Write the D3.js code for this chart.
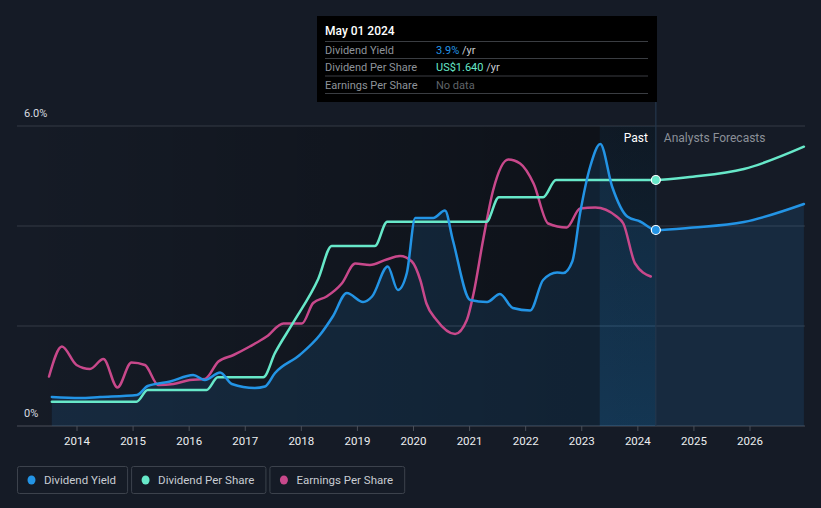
<!DOCTYPE html>
<html>
<head>
<meta charset="utf-8">
<script src="https://cdn.jsdelivr.net/npm/d3@7"></script>
<style>
  html, body { margin: 0; padding: 0; background: #151b26; }
  svg { display: block; font-family: Roboto, "Noto Sans", sans-serif; }
</style>
</head>
<body>
<svg id="chart" width="821" height="508"></svg>
<script>
// decimal year, value
const yieldPast = [
  [2013.56, 0.58], [2014.06, 0.56], [2014.42, 0.58], [2015.08, 0.62], [2015.27, 0.80],
  [2015.67, 0.89], [2016.08, 1.02], [2016.29, 0.92], [2016.56, 1.07], [2016.77, 0.84],
  [2017.18, 0.76], [2017.36, 0.79], [2017.54, 1.06], [2017.98, 1.42], [2018.34, 1.82],
  [2018.57, 2.19], [2018.82, 2.66], [2019.11, 2.48], [2019.27, 2.59], [2019.55, 3.19],
  [2019.73, 2.72], [2019.89, 3.06], [2020.04, 4.16], [2020.36, 4.16], [2020.57, 4.31],
  [2020.71, 3.72], [2021.02, 2.52], [2021.32, 2.48], [2021.55, 2.64], [2021.78, 2.36],
  [2022.09, 2.31], [2022.32, 2.92], [2022.57, 3.07], [2022.68, 3.06], [2022.84, 3.29],
  [2022.98, 4.26], [2023.16, 5.19], [2023.34, 5.64], [2023.55, 4.79], [2023.82, 4.19],
  [2024.05, 4.09], [2024.33, 3.92]
];
const yieldForecast = [[2024.33, 3.92], [2025.0, 3.97], [2025.9, 4.08], [2026.97, 4.44]];

const dpsPast = [
  [2013.56, 0.162], [2015.07, 0.162], [2015.27, 0.24], [2016.32, 0.24], [2016.52, 0.325],
  [2017.33, 0.325], [2017.54, 0.487], [2017.86, 0.687], [2018.31, 0.98], [2018.55, 1.20],
  [2019.32, 1.20], [2019.54, 1.362], [2021.31, 1.362], [2021.53, 1.525], [2022.32, 1.525],
  [2022.55, 1.64], [2024.33, 1.64]
];
const dpsForecast = [[2024.33, 1.64], [2024.99, 1.662], [2025.9, 1.713], [2026.97, 1.862]];

const epsPast = [
  [2013.51, 0.99], [2013.74, 1.59], [2014.0, 1.22], [2014.24, 1.14], [2014.48, 1.34],
  [2014.73, 0.77], [2014.98, 1.27], [2015.22, 1.22], [2015.46, 0.82], [2015.73, 0.84],
  [2016.02, 0.92], [2016.29, 0.94], [2016.53, 1.29], [2016.80, 1.42], [2017.09, 1.59],
  [2017.39, 1.79], [2017.69, 2.05], [2018.02, 2.05], [2018.22, 2.46], [2018.46, 2.59],
  [2018.73, 2.85], [2018.97, 3.25], [2019.23, 3.22], [2019.53, 3.33], [2019.77, 3.40],
  [2019.98, 3.29], [2020.13, 2.92], [2020.24, 2.45], [2020.42, 2.12], [2020.75, 1.84],
  [2020.96, 2.12], [2021.08, 2.65], [2021.25, 3.72], [2021.43, 4.72], [2021.70, 5.33],
  [2021.91, 5.25], [2022.15, 4.85], [2022.41, 4.05], [2022.74, 3.97], [2022.98, 4.35],
  [2023.25, 4.37], [2023.63, 4.19], [2023.75, 4.05], [2023.96, 3.25], [2024.24, 2.99]
];

const years = [2014, 2015, 2016, 2017, 2018, 2019, 2020, 2021, 2022, 2023, 2024, 2025, 2026];
const yTicks = [0, 2, 4, 6];
const yTickLabels = { 0: "0%", 6: "6.0%" };
const nowYear = 2024.33;
const highlightStart = 2023.33;

const seriesNames = ["Dividend Yield", "Dividend Per Share", "Earnings Per Share"];
const seriesColors = ["#2394e5", "#67e8c9", "#c8488b"];
const tooltipDate = "May 01 2024";
const tooltipValues = [["3.9%", " /yr"], ["US$1.640", " /yr"], ["No data", ""]];

const svg = d3.select("#chart");
const margin = {left: 17, right: 805, top: 126, bottom: 426};

const x = d3.scaleLinear().domain([2014, 2026]).range([76.5, 749.5]);
const y = d3.scaleLinear().domain([0, 6]).range([margin.bottom, margin.top]);      // yield %
const yDps = d3.scaleLinear().domain([0, 2]).range([margin.bottom, margin.top]);   // US$
const yEps = d3.scaleLinear().domain([0, 6]).range([margin.bottom, margin.top]);   // US$

const defs = svg.append("defs");
const pastGrad = defs.append("linearGradient").attr("id", "pastGrad");
pastGrad.append("stop").attr("offset", "0%").attr("stop-color", "#000").attr("stop-opacity", 0);
pastGrad.append("stop").attr("offset", "100%").attr("stop-color", "#000").attr("stop-opacity", 0.38);

const hlGrad = defs.append("linearGradient").attr("id", "hlGrad")
    .attr("x1", 0).attr("x2", 0).attr("y1", 0).attr("y2", 1);
hlGrad.append("stop").attr("offset", "0%").attr("stop-color", "#2394e5").attr("stop-opacity", 0.06);
hlGrad.append("stop").attr("offset", "100%").attr("stop-color", "#2394e5").attr("stop-opacity", 0.18);

// past background
svg.append("rect")
    .attr("x", margin.left).attr("y", margin.top)
    .attr("width", x(nowYear) - margin.left).attr("height", margin.bottom - margin.top)
    .attr("fill", "url(#pastGrad)");

// gridlines
svg.append("g")
    .selectAll("line")
    .data(yTicks)
    .enter()
    .append("line")
    .attr("x1", margin.left).attr("x2", margin.right)
    .attr("y1", d => y(d)).attr("y2", d => y(d))
    .attr("stroke", d => d === 0 ? "#4a4f58" : "#353a44")
    .attr("stroke-width", 1);

// area under yield
const area = d3.area()
    .x(d => x(d[0]))
    .y0(margin.bottom)
    .y1(d => y(d[1]))
    .curve(d3.curveMonotoneX);

svg.append("path")
    .datum(yieldPast.concat(yieldForecast.slice(1)))
    .attr("d", area)
    .attr("fill", "#2394e5")
    .attr("fill-opacity", 0.13);

// last-year highlight
svg.append("rect")
    .attr("x", x(highlightStart)).attr("y", margin.top)
    .attr("width", x(nowYear) - x(highlightStart)).attr("height", margin.bottom - margin.top)
    .attr("fill", "url(#hlGrad)");

// tooltip line
svg.append("line")
    .attr("x1", x(nowYear)).attr("x2", x(nowYear))
    .attr("y1", 100).attr("y2", margin.bottom)
    .attr("stroke", "#24364b").attr("stroke-width", 1.2);

const line = (sc) => d3.line()
    .x(d => x(d[0]))
    .y(d => sc(d[1]))
    .curve(d3.curveMonotoneX);

const lines = [
  [epsPast, yEps, 2],
  [dpsPast.concat(dpsForecast.slice(1)), yDps, 1],
  [yieldPast.concat(yieldForecast.slice(1)), y, 0]
];
lines.forEach(([data, sc, i]) => {
  svg.append("path")
      .datum(data)
      .attr("d", line(sc))
      .attr("fill", "none")
      .attr("stroke", seriesColors[i])
      .attr("stroke-width", 2.5)
      .attr("stroke-linecap", "round");
});

// markers at current date
svg.append("circle")
    .attr("cx", x(nowYear)).attr("cy", yDps(dpsForecast[0][1])).attr("r", 4.5)
    .attr("fill", seriesColors[1]).attr("stroke", "#fff").attr("stroke-width", 1.2);
svg.append("circle")
    .attr("cx", x(nowYear)).attr("cy", y(yieldForecast[0][1])).attr("r", 4.5)
    .attr("fill", seriesColors[0]).attr("stroke", "#fff").attr("stroke-width", 1.2);

// Past / Analysts Forecasts
svg.append("text")
    .attr("x", x(nowYear) - 8).attr("y", 142)
    .attr("text-anchor", "end")
    .attr("fill", "#ffffff").attr("font-size", 12)
    .text("Past");
svg.append("text")
    .attr("x", x(nowYear) + 8).attr("y", 142)
    .attr("fill", "#8b9098").attr("font-size", 12)
    .text("Analysts Forecasts");

// y labels
svg.append("g")
    .selectAll("text")
    .data(yTicks.filter(d => yTickLabels[d]))
    .enter()
    .append("text")
    .attr("x", 24)
    .attr("y", d => y(d) - 9)
    .attr("fill", "#d9dce0")
    .attr("font-size", 11)
    .text(d => yTickLabels[d]);

// x axis
const xAxis = svg.append("g")
    .attr("transform", `translate(0, ${margin.bottom})`)
    .call(d3.axisBottom(x).tickValues(years).tickFormat(d3.format("d")).tickSize(5).tickPadding(6));
xAxis.select(".domain").remove();
xAxis.selectAll("line").attr("stroke", "#4a4f58");
xAxis.selectAll("text")
    .attr("fill", "#eceef0")
    .style("font-size", "11.5px")
    .style("font-family", "Roboto, sans-serif");

// tooltip box
const tip = svg.append("g");
tip.append("rect")
    .attr("x", 317).attr("y", 16).attr("width", 340).attr("height", 86)
    .attr("fill", "#000");
tip.append("text")
    .attr("x", 325).attr("y", 35)
    .attr("fill", "#fff").attr("font-size", 12).attr("font-weight", 500)
    .text(tooltipDate);
[41.5, 58.5, 76, 93.5].forEach(yy => {
  tip.append("line")
      .attr("x1", 325).attr("x2", 648)
      .attr("y1", yy).attr("y2", yy)
      .attr("stroke", "#3a3d42").attr("stroke-width", 1);
});
seriesNames.forEach((name, i) => {
  const by = 54 + i * 17.3;
  tip.append("text")
      .attr("x", 325).attr("y", by)
      .attr("fill", "#8e939a").attr("font-size", 11)
      .text(name);
  const t = tip.append("text")
      .attr("x", 436).attr("y", by)
      .attr("font-size", 11);
  t.append("tspan")
      .attr("fill", i === 2 ? "#5f6368" : seriesColors[i])
      .text(tooltipValues[i][0]);
  t.append("tspan")
      .attr("fill", "#c9ccd0")
      .text(tooltipValues[i][1]);
});

// legend
const legend = svg.append("g");
let lx = 17;
seriesNames.forEach((name, i) => {
  const g = legend.append("g");
  const txt = g.append("text")
      .attr("x", lx + 27).attr("y", 484)
      .attr("fill", "#c8ccd2").attr("font-size", 11.5)
      .text(name);
  const w = txt.node().getComputedTextLength() + 27 + 11;
  g.insert("rect", "text")
      .attr("x", lx + 0.5).attr("y", 466.5)
      .attr("width", w).attr("height", 27)
      .attr("rx", 2)
      .attr("fill", "none").attr("stroke", "#3c424c");
  g.append("ellipse")
      .attr("cx", lx + 14.5).attr("cy", 480)
      .attr("rx", 4).attr("ry", 4.5)
      .attr("fill", seriesColors[i]);
  lx += w + 4;
});
</script>
</body>
</html>
